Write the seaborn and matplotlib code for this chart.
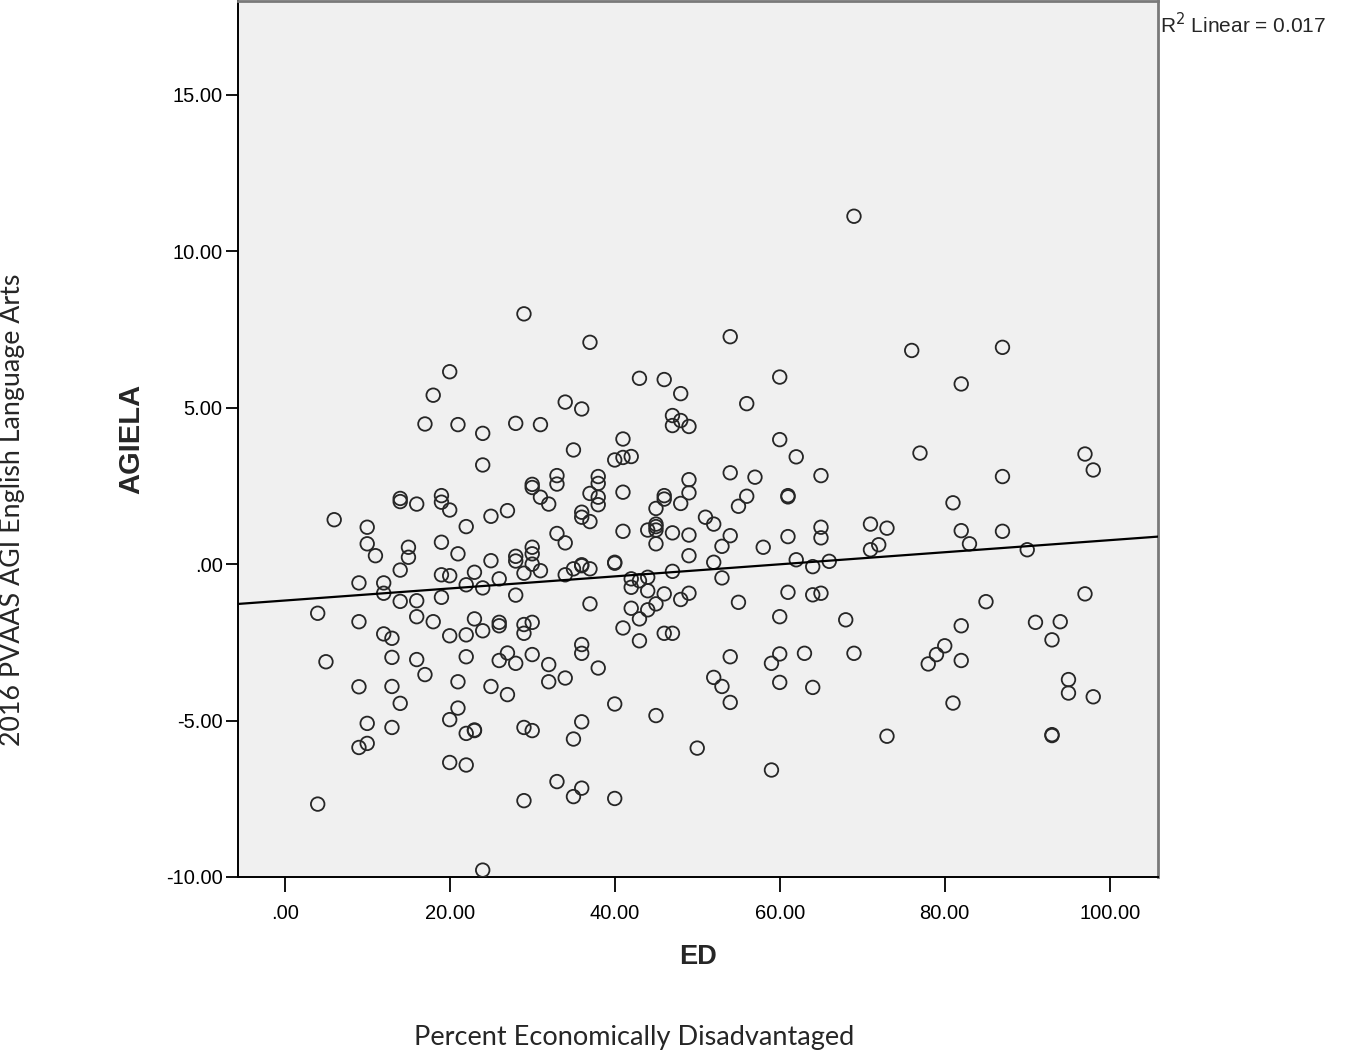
import numpy as np
import pandas as pd
import matplotlib
matplotlib.use("Agg")
import matplotlib.pyplot as plt
import seaborn as sns

# ---- data (ED = percent economically disadvantaged, AGIELA) ----
ed = [29, 20, 18, 17, 21, 24, 28, 31, 24, 30, 30,
      37, 54, 43, 46, 48, 60, 56, 34, 36, 47, 47, 48, 49, 41, 40, 41, 42, 35, 60, 62, 65, 54, 57, 33, 33, 38, 38, 49,
      69, 76, 87, 82, 77, 87, 97, 98,
      31, 14, 14, 16, 19, 19, 20, 22, 25, 27, 6, 10, 10, 11, 15, 15, 14, 19, 21, 25, 19, 20, 23, 22, 24, 26, 28, 28,
      30, 30, 30, 29, 31, 28, 9, 12, 12, 14, 16, 19, 4, 9, 16, 18, 12, 13, 20, 22, 23, 24, 26, 26, 29, 29, 30, 5,
      13, 16, 17, 22, 26, 27, 28, 30,
      32, 37, 38, 38, 41, 46, 46, 49, 48, 45, 55, 56, 61, 61, 36, 36, 37, 41, 33, 34, 44, 45, 45, 45, 45, 47, 49, 49,
      51, 52, 54, 53, 52, 53, 58, 61, 65, 65, 62, 64, 66, 34, 35, 36, 36, 37, 40, 40, 42, 42, 43, 44, 44, 47, 46, 49,
      48, 45, 44, 42, 43, 37, 41, 43, 46, 47, 55, 61, 64, 65, 60, 68, 36, 36, 32, 38, 54, 60, 59, 63,
      81, 71, 73, 72, 71, 82, 83, 87, 90, 85, 97, 82, 91, 94, 93, 69, 80, 79, 78, 82,
      9, 13, 14, 21, 25, 27, 21, 20, 10, 13, 10, 9, 22, 23, 23, 29, 30, 20, 22, 4, 29, 24,
      32, 34, 40, 36, 35, 45, 52, 53, 54, 60, 64, 50, 59, 33, 36, 35, 40,
      95, 95, 98, 81, 73, 93, 93]

agiela = [8.00, 6.15, 5.40, 4.48, 4.46, 4.18, 4.50, 4.46, 3.17, 2.55, 2.45,
          7.09, 7.27, 5.94, 5.90, 5.45, 5.98, 5.13, 5.18, 4.96, 4.75, 4.43, 4.59, 4.40, 4.00, 3.33, 3.41, 3.44, 3.65,
          3.98, 3.43, 2.83, 2.92, 2.78, 2.83, 2.56, 2.80, 2.58, 2.70,
          11.12, 6.83, 6.93, 5.76, 3.55, 2.80, 3.52, 3.01,
          2.14, 2.10, 2.00, 1.92, 2.19, 1.98, 1.73, 1.20, 1.53, 1.71, 1.42, 1.18, 0.65, 0.27, 0.54, 0.22, -0.19, 0.70,
          0.33, 0.11, -0.34, -0.37, -0.26, -0.66, -0.76, -0.47, 0.25, 0.10, 0.54, 0.33, 0.00, -0.29, -0.21, -0.99,
          -0.60, -0.60, -0.93, -1.19, -1.17, -1.06, -1.57, -1.84, -1.68, -1.84, -2.23, -2.37, -2.29, -2.26, -1.75,
          -2.13, -1.86, -1.97, -1.93, -2.21, -1.86, -3.12, -2.98, -3.05, -3.53, -2.96, -3.08, -2.84, -3.17, -2.89,
          1.92, 2.26, 2.14, 1.90, 2.30, 2.19, 2.08, 2.28, 1.94, 1.78, 1.85, 2.17, 2.19, 2.15, 1.66, 1.50, 1.36, 1.05,
          0.98, 0.68, 1.09, 1.28, 1.09, 1.20, 0.65, 1.00, 0.93, 0.27, 1.50, 1.28, 0.91, 0.57, 0.06, -0.44, 0.54, 0.88,
          1.18, 0.84, 0.14, -0.08, 0.09, -0.34, -0.15, -0.05, -0.02, -0.15, 0.06, 0.03, -0.47, -0.74, -0.53, -0.42,
          -0.85, -0.23, -0.95, -0.93, -1.13, -1.27, -1.46, -1.41, -1.75, -1.27, -2.04, -2.45, -2.21, -2.21, -1.22,
          -0.90, -0.98, -0.93, -1.68, -1.78, -2.57, -2.85, -3.21, -3.32, -2.96, -2.87, -3.17, -2.85,
          1.96, 1.28, 1.15, 0.62, 0.46, 1.07, 0.65, 1.05, 0.46, -1.20, -0.95, -1.97, -1.86, -1.84, -2.42, -2.85,
          -2.61, -2.89, -3.19, -3.08,
          -3.92, -3.91, -4.45, -3.76, -3.91, -4.17, -4.60, -4.97, -5.09, -5.22, -5.73, -5.86, -5.41, -5.32, -5.30,
          -5.22, -5.32, -6.34, -6.42, -7.67, -7.56, -9.78,
          -3.76, -3.64, -4.47, -5.04, -5.59, -4.84, -3.62, -3.91, -4.42, -3.78, -3.94, -5.88, -6.58, -6.95, -7.16,
          -7.43, -7.49,
          -3.69, -4.12, -4.24, -4.44, -5.50, -5.45, -5.48]

x_ticks = [0, 20, 40, 60, 80, 100]
x_tick_labels = [".00", "20.00", "40.00", "60.00", "80.00", "100.00"]
y_ticks = [-10, -5, 0, 5, 10, 15]
y_tick_labels = ["-10.00", "-5.00", ".00", "5.00", "10.00", "15.00"]
x_label = "ED"
y_label = "AGIELA"
r2_text = "R$^2$ Linear = 0.017"
bottom_caption = "Percent Economically Disadvantaged"
side_caption = "2016 PVAAS AGI English Language Arts"

sns.set_theme(style="white")
plt.rcParams['font.family'] = ['Liberation Sans', 'DejaVu Sans']

W, H = 1346, 1055
fig = plt.figure(figsize=(W / 100, H / 100), dpi=100)
ax = fig.add_axes([238 / W, 1 - 877 / H, 920 / W, 876 / H])
ax.set_facecolor('#f0f0f0')
ax.set_xlim(-5.66, 105.85)
ax.set_ylim(-10.0, 18.0)

df = pd.DataFrame({"ED": ed, "AGIELA": agiela})
sns.regplot(data=df, x="ED", y="AGIELA", ax=ax, ci=None, truncate=False,
            scatter_kws=dict(s=95, facecolors='none', edgecolors='#262626',
                             linewidths=1.3, alpha=1, zorder=3),
            line_kws=dict(color='black', lw=1.6, zorder=4))

ax.set_xticks(x_ticks)
ax.set_xticklabels(x_tick_labels)
ax.set_yticks(y_ticks)
ax.set_yticklabels(y_tick_labels)
ax.tick_params(axis='x', direction='out', length=10.5, width=1.3, colors='black',
               labelsize=14.5, bottom=True, pad=9)
ax.tick_params(axis='y', direction='out', length=9, width=1.3, colors='black',
               labelsize=14.5, left=True, pad=2)

for side in ['left', 'bottom']:
    ax.spines[side].set_color('black')
    ax.spines[side].set_linewidth(1.4)
for side in ['top', 'right']:
    ax.spines[side].set_color('#7a7a7a')
    ax.spines[side].set_linewidth(2.0)

ax.set_xlabel(x_label, fontsize=19.5, fontweight='bold', labelpad=15)
ax.set_ylabel(y_label, fontsize=21, fontweight='bold', labelpad=15)

fig.text(1160 / W, 1 - 25 / H, r2_text, fontsize=15, ha='left', va='center')
fig.text(634 / W, 1 - 1038 / H, bottom_caption, fontsize=19.5, ha='center', va='center',
         family=['Lato', 'DejaVu Sans'])
fig.text(13 / W, 1 - 510 / H, side_caption, fontsize=19.3, ha='center', va='center',
         rotation=90, family=['Lato', 'DejaVu Sans'])

fig.savefig("out.png", dpi=100, facecolor='white')
